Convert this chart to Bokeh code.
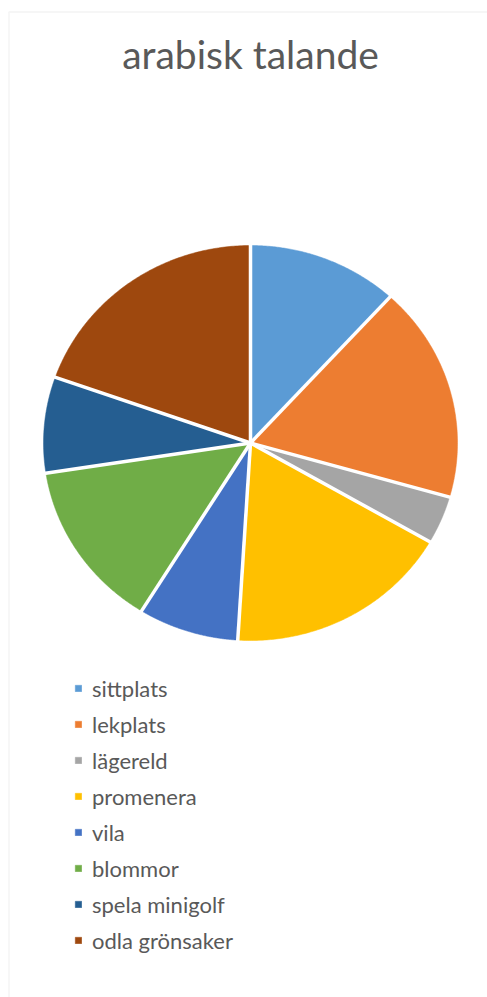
import numpy as np
from bokeh.plotting import figure
from bokeh.models import Range1d, Legend, LegendItem, Label, BoxAnnotation
from bokeh.embed import file_html
from bokeh.resources import INLINE

# ---- data ----
title_text = "arabisk talande"
categories = ["sittplats", "lekplats", "lägereld", "promenera", "vila",
              "blommor", "spela minigolf", "odla grönsaker"]
values = [6, 9, 2, 9, 4, 7, 4, 10]
colors = ["#5B9BD5", "#ED7D31", "#A5A5A5", "#FFC000", "#4472C4",
          "#70AD47", "#255E91", "#9E480E"]

# ---- layout ----
W, H = 487, 997
CX, CY = 250, 554.5
RX, RY = 207, 197.5
FONT = "Lato"
TXT = "#595959"

p = figure(width=W, height=H, x_range=Range1d(0, W), y_range=Range1d(0, H),
           x_axis_type=None, y_axis_type=None, output_backend="svg",
           toolbar_location=None, min_border=0)
p.grid.visible = False
p.outline_line_color = None
p.background_fill_color = "white"
p.border_fill_color = "white"

total = float(sum(values))
frac = np.array(values) / total
ends = np.cumsum(frac)
starts = ends - frac

items = []
for i, cat in enumerate(categories):
    th = np.pi / 2 - 2 * np.pi * np.linspace(starts[i], ends[i], 120)
    xs = [CX] + list(CX + RX * np.cos(th))
    ys = [CY] + list(CY + RY * np.sin(th))
    r = p.patch(xs, ys, fill_color=colors[i], line_color=colors[i], line_width=0.5)
    items.append(LegendItem(label=cat, renderers=[r]))

bth = np.pi / 2 - 2 * np.pi * starts
p.segment(x0=[CX] * len(bth), y0=[CY] * len(bth),
          x1=list(CX + RX * 1.01 * np.cos(bth)), y1=list(CY + RY * 1.01 * np.sin(bth)),
          line_color="white", line_width=3.5)

legend = Legend(items=items, location=(74, 39), orientation="vertical",
                border_line_color=None, background_fill_alpha=0,
                padding=0, margin=0, spacing=0, label_height=36,
                glyph_height=8, glyph_width=8, label_standoff=10,
                label_text_font=FONT, label_text_font_size="22px",
                label_text_color=TXT, label_text_baseline="middle")
p.add_layout(legend)

p.add_layout(Label(x=250, y=H - 53, text=title_text, text_align="center",
                   text_baseline="alphabetic", text_font=FONT,
                   text_font_size="39px", text_color=TXT))

p.add_layout(BoxAnnotation(left=8.5, right=W + 20, bottom=-20, top=H - 11.5,
                           fill_alpha=0, line_color="#D9D9D9", line_width=1.5))

open("out.html", "w").write(file_html(p, INLINE))
